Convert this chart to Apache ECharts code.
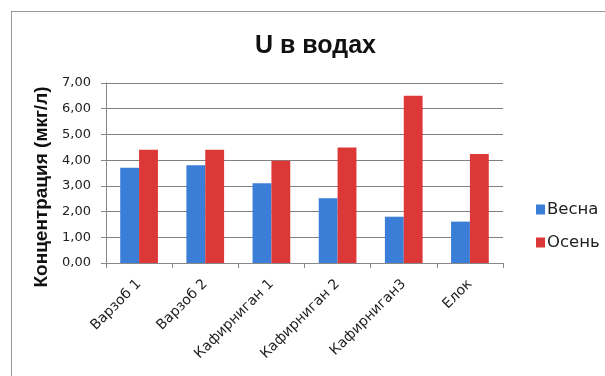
<!DOCTYPE html>
<html>
<head>
<meta charset="utf-8">
<script src="https://cdn.jsdelivr.net/npm/echarts@6/dist/echarts.min.js"></script>
<style>
  html, body { margin: 0; padding: 0; background: #fff; }
  #frame { position: absolute; left: 11px; top: 11px; width: 600px; height: 380px; border: 1px solid #9a9a9a; box-sizing: border-box; }
  #chart { position: absolute; left: 0; top: 0; width: 605px; height: 376px; }
</style>
</head>
<body>
<div id="frame"></div>
<div id="chart"></div>
<script>
// Sampling sites and uranium concentration (µg/L) for spring and autumn
const categories = ['Варзоб 1', 'Варзоб 2', 'Кафирниган 1', 'Кафирниган 2', 'Кафирниган3', 'Елок'];
const spring = [3.70, 3.80, 3.10, 2.52, 1.80, 1.61];
const autumn = [4.40, 4.40, 3.98, 4.49, 6.50, 4.24];
const seriesNames = ['Весна', 'Осень'];
const yTicks = { min: 0, max: 7, interval: 1 };

const sans = 'Liberation Sans, Arial, sans-serif';
const wide = 'DejaVu Sans, sans-serif';
const chart = echarts.init(document.getElementById('chart'), null, { renderer: 'canvas' });
chart.setOption({
  animation: false,
  backgroundColor: 'transparent',
  title: {
    text: 'U в водах',
    left: 250, top: 29,
    textStyle: { fontFamily: sans, fontSize: 25, fontWeight: 'bold', color: '#111' }
  },
  legend: {
    orient: 'vertical',
    left: 531, top: 196,
    itemWidth: 9, itemHeight: 10, itemGap: 16,
    icon: 'rect',
    textStyle: { fontFamily: wide, fontSize: 16.5, color: '#222', padding: [0, 0, 0, -3] },
    data: seriesNames
  },
  grid: { left: 106, right: 102, top: 83, bottom: 113, outerBoundsMode: 'none' },
  xAxis: {
    type: 'category',
    data: categories,
    axisLine: { lineStyle: { color: '#888', width: 1 } },
    axisTick: { show: true, length: 5, lineStyle: { color: '#888' } },
    axisLabel: {
      rotate: 45, interval: 0, hideOverlap: false,
      fontFamily: wide, fontSize: 14, color: '#222', margin: 19
    }
  },
  yAxis: {
    type: 'value',
    min: yTicks.min, max: yTicks.max, interval: yTicks.interval,
    name: 'Концентрация (мкг/л)',
    nameLocation: 'middle', nameGap: 55, nameRotate: 90, nameMoveOverlap: false,
    nameTextStyle: { fontFamily: sans, fontSize: 19, fontWeight: 'bold', color: '#111', padding: [0, 28, 0, 0] },
    axisLine: { show: true, lineStyle: { color: '#888' } },
    axisTick: { show: true, length: 5, inside: false, lineStyle: { color: '#888' } },
    splitLine: { lineStyle: { color: '#808080', width: 1 } },
    axisLabel: {
      fontFamily: wide, fontSize: 13, color: '#222', margin: 15,
      formatter: v => v.toFixed(2).replace('.', ',')
    }
  },
  series: [
    { name: seriesNames[0], type: 'bar', data: spring, barGap: '0%', barCategoryGap: '43%',
      itemStyle: { color: '#3a7ed8' } },
    { name: seriesNames[1], type: 'bar', data: autumn, barGap: '0%', barCategoryGap: '43%',
      itemStyle: { color: '#dd3838' } }
  ]
});
</script>
</body>
</html>
